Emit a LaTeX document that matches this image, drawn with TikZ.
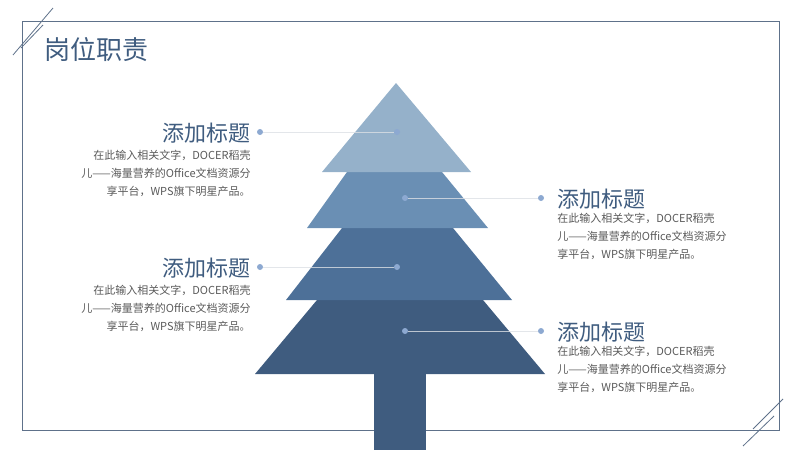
\documentclass[tikz,border=0pt]{standalone}
\usepackage{fontspec}
\setmainfont{Noto Sans CJK SC}
\usetikzlibrary{positioning}
\definecolor{frameblue}{HTML}{5E718A}
\definecolor{tierA}{HTML}{95B1CA}
\definecolor{tierB}{HTML}{6A8FB4}
\definecolor{tierC}{HTML}{4D7098}
\definecolor{tierD}{HTML}{3F5C7F}
\definecolor{dotblue}{HTML}{8DA9D1}
\definecolor{bodygray}{HTML}{5A5A5A}
\def\bodytext{在此输入相关文字，DOCER稻壳\\儿——海量营养的Office文档资源分\\享平台，WPS旗下明星产品。}

\begin{document}
\begin{tikzpicture}[x=1pt,y=-1pt,
	dot/.style={circle,fill=dotblue,inner sep=0pt,minimum size=6pt},
	heading/.style={inner sep=0pt,text=tierD,font=\fontsize{22}{24}\selectfont},
	bodyR/.style={inner sep=0pt,text=bodygray,align=right,font=\fontsize{11}{18}\selectfont},
	bodyL/.style={inner sep=0pt,text=bodygray,align=left,font=\fontsize{11}{18}\selectfont},
	link/.style={draw=white!78!frameblue,line width=0.8pt,opacity=0.8}]
	%%%%% START %%%%%
	
	\useasboundingbox (0,0) rectangle (800,450);
	
	\draw[frameblue,line width=1pt] (22,21) rectangle (779,430);
	\draw[frameblue,line width=0.8pt] (53,8) -- (13,55);
	\draw[frameblue,line width=0.8pt] (43,25) -- (21,48);
	\draw[frameblue,line width=0.8pt] (783,399) -- (753,429);
	\draw[frameblue,line width=0.8pt] (774,416) -- (743,446);
	
	\node[anchor=west,inner sep=0pt,text=tierD,font=\fontsize{26}{28}\selectfont] (title) at (44,50) {岗位职责};
	
	% tree
	\fill[tierD] (374,370) rectangle (426,450);
	\fill[tierD] (317,300) -- (483,300) -- (545,374) -- (255,374) -- cycle;
	\fill[tierC] (342,228) -- (453,228) -- (512,300) -- (286,300) -- cycle;
	\fill[tierB] (347,172) -- (442,172) -- (488,228) -- (307,228) -- cycle;
	\fill[tierA] (396,83) -- (471,172) -- (322,172) -- cycle;
	
	% dots on the tree
	\node[dot] (t1) at (397,132) {};
	\node[dot] (t2) at (405,198) {};
	\node[dot] (t3) at (397,267) {};
	\node[dot] (t4) at (405,331) {};
	
	% dots by the texts
	\node[dot] (d1) at (260,132) {};
	\node[dot] (d2) at (541,198) {};
	\node[dot] (d3) at (260,267) {};
	\node[dot] (d4) at (541,331) {};
	
	\draw[link] (d1) -- (t1);
	\draw[link] (t2) -- (d2);
	\draw[link] (d3) -- (t3);
	\draw[link] (t4) -- (d4);
	
	% headings
	\node[heading,left=6pt of d1,yshift=-1pt] (h1) {添加标题};
	\node[heading,right=13pt of d2,yshift=-1pt] (h2) {添加标题};
	\node[heading,left=6pt of d3,yshift=-1pt] (h3) {添加标题};
	\node[heading,right=13pt of d4,yshift=-1pt] (h4) {添加标题};
	
	% body texts
	\node[bodyR,anchor=north east] (b1) at ([yshift=-7pt]h1.south east) {\bodytext};
	\node[bodyL,anchor=north west] (b2) at ([yshift=-4pt]h2.south west) {\bodytext};
	\node[bodyR,anchor=north east] (b3) at ([yshift=-7pt]h3.south east) {\bodytext};
	\node[bodyL,anchor=north west] (b4) at ([yshift=-4pt]h4.south west) {\bodytext};
	
	%%%%% END %%%%%
\end{tikzpicture}
\end{document}
